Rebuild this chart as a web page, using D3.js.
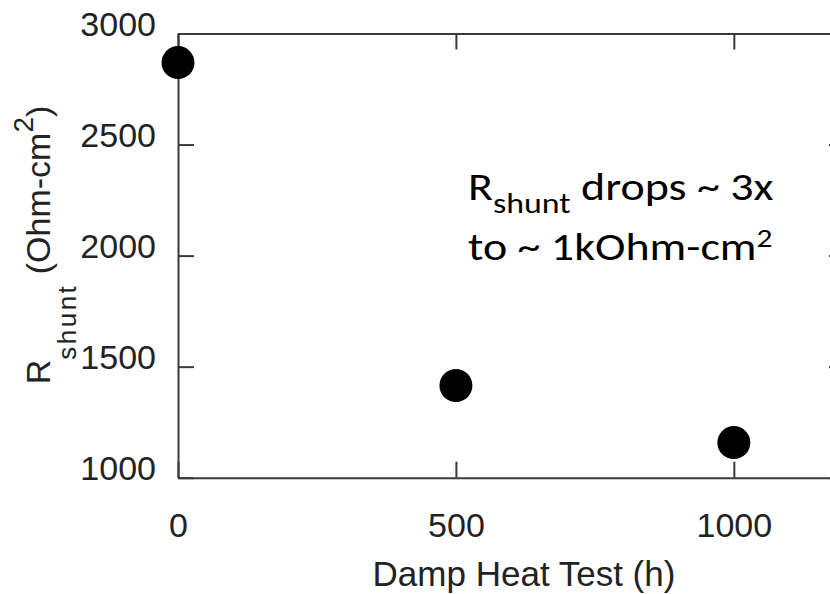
<!DOCTYPE html>
<html>
<head>
<meta charset="utf-8">
<script src="https://cdn.jsdelivr.net/npm/d3@7"></script>
<style>
  html, body { margin: 0; padding: 0; background: #fff; overflow: hidden; }
  svg { display: block; }
</style>
</head>
<body>
<div id="chart"></div>
<script>
// Damp heat test hours vs shunt resistance
const hours = [0, 500, 1000];
const rShunt = [2869, 1415, 1158];
const xTicks = [0, 500, 1000];
const yTicks = [1000, 1500, 2000, 2500, 3000];

const width = 830;
const height = 594;
const frame = {left: 178, right: 845, top: 33.5, bottom: 477.7};
const axisColor = "#3a3a3a";
const textColor = "#222";
const tickFont = "'Liberation Sans', Arial, sans-serif";

const svg = d3.select("#chart")
	.append("svg")
	.attr("width", width)
	.attr("height", height)
	.attr("viewBox", `0 0 ${width} ${height}`);

const x = d3.scaleLinear()
	.domain([0, 1200])
	.range([frame.left, frame.right]);

const y = d3.scaleLinear()
	.domain([1000, 3000])
	.range([frame.bottom, frame.top]);

function styleAxis(g) {
	g.select(".domain").attr("stroke", axisColor).attr("stroke-width", 2);
	g.selectAll(".tick line").attr("stroke", axisColor).attr("stroke-width", 2);
	g.selectAll(".tick text")
		.attr("fill", textColor)
		.style("font-family", tickFont)
		.style("font-size", "34px");
}

// Axes (ticks inward, all four sides)
svg.append("g")
	.attr("transform", `translate(0,${frame.bottom})`)
	.call(d3.axisBottom(x).tickValues(xTicks).tickSize(-16).tickSizeOuter(0).tickPadding(35).tickFormat(d3.format("d")))
	.call(styleAxis);

svg.append("g")
	.attr("transform", `translate(0,${frame.top})`)
	.call(d3.axisTop(x).tickValues(xTicks).tickSize(-16).tickSizeOuter(0).tickFormat(""))
	.call(styleAxis);

svg.append("g")
	.attr("transform", `translate(${frame.left},0)`)
	.call(d3.axisLeft(y).tickValues(yTicks).tickSize(-16).tickSizeOuter(0).tickPadding(22).tickFormat(d3.format("d")))
	.call(styleAxis)
	.call(g => g.selectAll(".tick text").attr("dy", "0.05em"));

svg.append("g")
	.attr("transform", `translate(${frame.right},0)`)
	.call(d3.axisRight(y).tickValues(yTicks).tickSize(-16).tickSizeOuter(0).tickFormat(""))
	.call(styleAxis);

// Points
svg.append("g")
	.selectAll("circle")
	.data(hours.map((h, i) => ({h, r: rShunt[i]})))
	.join("circle")
	.attr("cx", d => x(d.h))
	.attr("cy", d => y(d.r))
	.attr("r", 16.5)
	.attr("fill", "#000");

// X title
svg.append("text")
	.attr("x", 524)
	.attr("y", 586)
	.attr("text-anchor", "middle")
	.attr("fill", textColor)
	.style("font-family", tickFont)
	.style("font-size", "35px")
	.text("Damp Heat Test (h)");

// Y title
const yTitle = svg.append("text")
	.attr("transform", "translate(50,245) rotate(-90)")
	.attr("text-anchor", "middle")
	.attr("fill", textColor)
	.style("font-family", tickFont)
	.style("font-size", "34px");
yTitle.append("tspan").text("R");
yTitle.append("tspan").attr("dy", 26).style("font-size", "26px").style("letter-spacing", "2.5px").text("shunt");
yTitle.append("tspan").attr("dy", -26).text(" (Ohm-cm");
yTitle.append("tspan").attr("dy", -17).style("font-size", "28px").text("2");
yTitle.append("tspan").attr("dy", 17).text(")");

// Annotation (stretched a bit wider, like the slide text)
const noteFont = "Carlito, Calibri, 'Open Sans', sans-serif";
const note = svg.append("g")
	.attr("transform", "translate(468,0) scale(1.21,1)")
	.style("font-family", noteFont)
	.style("font-size", "38px")
	.attr("fill", "#000");

const note1 = note.append("text").attr("x", 0).attr("y", 200);
note1.append("tspan").text("R");
note1.append("tspan").attr("dy", 13).style("font-size", "28px").text("shunt");
note1.append("tspan").attr("dy", -13).text(" drops ~ 3x");

const note2 = note.append("text").attr("x", 0).attr("y", 260);
note2.append("tspan").text("to ~ 1kOhm-cm");
note2.append("tspan").attr("dy", -13).style("font-size", "26px").text("2");
</script>
</body>
</html>
